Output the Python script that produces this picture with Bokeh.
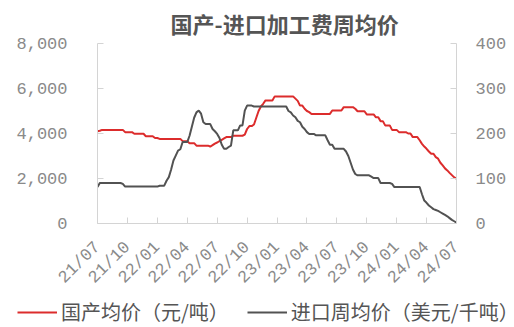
from bokeh.plotting import figure
from bokeh.layouts import column, row
from bokeh.models import (Range1d, LinearAxis, FixedTicker, NumeralTickFormatter,
                          Legend, LegendItem, ColumnDataSource)
from bokeh.embed import file_html
from bokeh.resources import INLINE
import math

# Quarter labels along the weekly axis (one every 13 weeks)
tick_labels = ["21/07", "21/10", "22/01", "22/04", "22/07", "22/10", "23/01",
               "23/04", "23/07", "23/10", "24/01", "24/04", "24/07"]

# Domestic average price, yuan/ton (weekly)
domestic = [
    4100, 4120, 4160, 4160, 4160, 4160, 4160, 4160, 4160, 4160,
    4160, 4160, 4060, 4060, 4060, 4060, 3990, 3990, 3990, 3990,
    3990, 3880, 3880, 3880, 3880, 3800, 3800, 3760, 3760, 3760,
    3760, 3760, 3760, 3760, 3760, 3760, 3760, 3660, 3660, 3660,
    3570, 3570, 3570, 3460, 3460, 3460, 3460, 3460, 3460, 3420,
    3480, 3550, 3600, 3660, 3720, 3780, 3840, 3840, 3840, 3900,
    3900, 3900, 3900, 3900, 3950, 4200, 4330, 4330, 4400, 4700,
    5000, 5200, 5320, 5470, 5470, 5470, 5470, 5650, 5650, 5650,
    5650, 5650, 5650, 5650, 5650, 5650, 5550, 5450, 5240, 5240,
    5100, 5000, 4950, 4870, 4870, 4870, 4870, 4870, 4870, 4870,
    4870, 4870, 5020, 5020, 5020, 5020, 5020, 5170, 5170, 5170,
    5170, 5170, 5100, 4990, 4990, 4990, 4990, 4850, 4850, 4850,
    4850, 4720, 4720, 4550, 4550, 4360, 4360, 4360, 4160, 4160,
    4160, 4060, 4060, 4060, 4060, 4000, 4000, 3840, 3840, 3840,
    3700, 3540, 3420, 3320, 3200, 3100, 3100, 2950, 2880, 2700,
    2580, 2450, 2360, 2250, 2150, 2050, 1990,
]

# Imported weekly average, USD per dry ton
imported = [
    81, 90, 90, 90, 90, 90, 90, 90, 90, 90,
    90, 88, 82, 82, 82, 82, 82, 82, 82, 82,
    82, 82, 82, 82, 82, 82, 82, 84, 84, 84,
    95, 103, 120, 140, 151, 162, 165, 181, 181, 181,
    195, 215, 235, 247, 251, 244, 225, 221, 221, 221,
    210, 205, 199, 190, 175, 166, 166, 170, 173, 207,
    207, 207, 218, 218, 251, 262, 262, 262, 260, 260,
    260, 260, 260, 260, 260, 260, 260, 260, 260, 260,
    260, 260, 260, 250, 247, 240, 236, 228, 225, 215,
    210, 203, 199, 199, 199, 196, 196, 196, 196, 196,
    185, 175, 175, 166, 166, 166, 166, 166, 160, 150,
    135, 120, 110, 107, 107, 107, 107, 107, 107, 104,
    101, 101, 101, 90, 90, 90, 90, 90, 88, 81,
    81, 81, 81, 81, 81, 81, 81, 81, 81, 81,
    81, 65, 51, 46, 40, 36, 32, 30, 28, 25,
    22, 19, 16, 12, 8, 5, 2,
]

legend_labels = ["国产均价（元/吨）", "进口周均价（美元/千吨）"]

weeks = list(range(len(domestic)))
src = ColumnDataSource(dict(week=weeks, domestic=domestic, imported=imported))

GRID = "#d4d4d4"
LABEL = "#8a8a8a"
TEXT = "#555555"
RED = "#dc2c2c"
DARK = "#525252"
MONO = "Liberation Mono"
CJK = "Noto Sans CJK SC"

# main chart
p = figure(width=514, height=297, output_backend="svg", toolbar_location=None,
           x_range=Range1d(0, len(domestic) - 1), y_range=Range1d(0, 8000),
           min_border_left=97, min_border_right=58, min_border_top=43,
           min_border_bottom=74, background_fill_color="white",
           border_fill_color="white", outline_line_color=None)
p.extra_y_ranges = {"usd": Range1d(0, 400)}

p.title.text = "国产-进口加工费周均价"
p.title.align = "left"
p.title.offset = 73
p.title.standoff = 9
p.title.text_font = CJK
p.title.text_font_size = "22px"
p.title.text_font_style = "bold"
p.title.text_color = TEXT

p.xgrid.visible = False
p.ygrid.visible = False

def style_axis(ax):
    ax.axis_line_color = GRID
    ax.major_tick_line_color = GRID
    ax.minor_tick_line_color = None
    ax.major_tick_in = 6
    ax.major_tick_out = 0
    ax.major_label_text_color = LABEL
    ax.major_label_text_font = MONO
    ax.major_label_text_font_size = "17px"

# bottom: quarterly ticks with rotated labels
xa = p.xaxis[0]
xa.ticker = FixedTicker(ticks=[13 * i for i in range(len(tick_labels))])
xa.major_label_overrides = {13 * i: t for i, t in enumerate(tick_labels)}
xa.major_label_orientation = math.pi / 4
xa.major_label_standoff = 21
style_axis(xa)

# left: domestic price
ya = p.yaxis[0]
ya.ticker = FixedTicker(ticks=[0, 2000, 4000, 6000, 8000])
ya.formatter = NumeralTickFormatter(format="0,0")
ya.major_label_standoff = 30
style_axis(ya)

# right: imported price
ra = LinearAxis(y_range_name="usd", ticker=FixedTicker(ticks=[0, 100, 200, 300, 400]))
ra.major_label_standoff = 19
style_axis(ra)
p.add_layout(ra, "right")

p.line("week", "domestic", source=src, line_color=RED, line_width=2)
p.line("week", "imported", source=src, y_range_name="usd",
       line_color=DARK, line_width=2)

# legend strip under the chart; the key lines carry one flat segment each
lg = figure(width=514, height=30, output_backend="svg", toolbar_location=None,
            x_axis_location=None, y_axis_location=None,
            min_border_left=0, min_border_right=0, min_border_top=0,
            min_border_bottom=0, x_range=Range1d(0, 1), y_range=Range1d(0, 1),
            outline_line_color=None, background_fill_color="white",
            border_fill_color="white")
lg.xgrid.visible = False
lg.ygrid.visible = False
k_dom = lg.line([2, 3], [2, 2], line_color=RED, line_width=2)
k_imp = lg.line([2, 3], [2, 2], line_color=DARK, line_width=2)
legend = Legend(items=[LegendItem(label=legend_labels[0], renderers=[k_dom]),
                       LegendItem(label=legend_labels[1], renderers=[k_imp])],
                orientation="horizontal", location=(17, 1),
                padding=0, spacing=18, margin=0, glyph_width=40, glyph_height=22,
                label_standoff=4, label_height=22,
                label_text_font=CJK, label_text_font_size="20px",
                label_text_color=TEXT, border_line_color=None,
                background_fill_alpha=0)
lg.add_layout(legend, "center")

open("out.html", "w").write(file_html(column(p, row(lg), spacing=0), INLINE))
